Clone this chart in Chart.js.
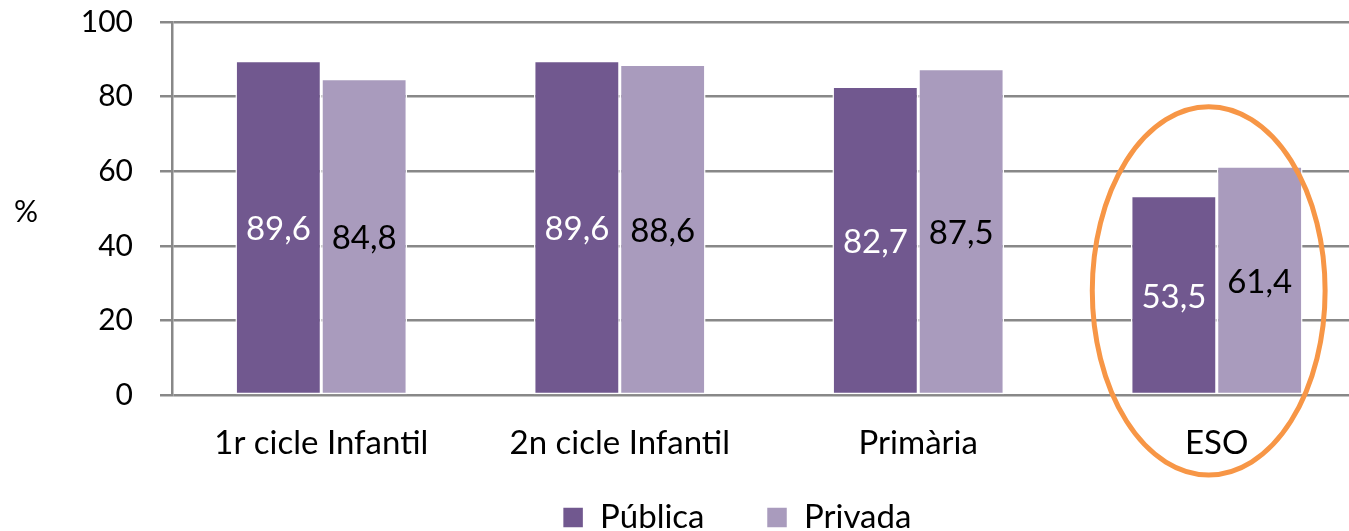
<!DOCTYPE html>
<html>
<head>
<meta charset="utf-8">
<script src="https://cdn.jsdelivr.net/npm/chart.js@4"></script>
<style>
  html, body { margin: 0; padding: 0; background: #fff; overflow: hidden; }
  #wrap { width: 1372px; height: 596px; }
</style>
</head>
<body>
<div id="wrap"><canvas id="myChart"></canvas></div>
<script>
var categories = ["1r cicle Infantil", "2n cicle Infantil", "Primària", "ESO"];
var publica = [89.6, 89.6, 82.7, 53.5];
var privada = [84.8, 88.6, 87.5, 61.4];
var yTicks = [0, 20, 40, 60, 80, 100];

var FONT = "Lato, 'DejaVu Sans', sans-serif";

// etiquetes dins de les barres
var barLabels = {
    id: "barLabels",
    afterDatasetsDraw: function (chart) {
        var c = chart.ctx;
        c.save();
        c.font = "33px " + FONT;
        c.textAlign = "center";
        c.textBaseline = "middle";
        chart.data.datasets.forEach(function (ds, i) {
            var meta = chart.getDatasetMeta(i);
            c.fillStyle = i === 0 ? "#ffffff" : "#000000";
            meta.data.forEach(function (bar, j) {
                var txt = ds.data[j].toFixed(1).replace(".", ",");
                c.fillText(txt, bar.x, (bar.y + bar.base) / 2 + 2);
            });
        });
        c.restore();
    }
};

// la llegenda queda una mica desplaçada (dreta i amunt)
var legendShift = {
    id: "legendShift",
    afterLayout: function (chart) {
        var lg = chart.legend;
        lg.left += 108;
        lg.width -= 108;
        lg.top -= 52;
        lg.bottom -= 52;
    }
};

// "%" i l'el·lipse taronja al voltant d'ESO
var extras = {
    id: "extras",
    afterDraw: function (chart) {
        var c = chart.ctx;
        var x = chart.scales.x, y = chart.scales.y;
        c.save();
        c.font = "30px " + FONT;
        c.fillStyle = "#000";
        c.textAlign = "center";
        c.textBaseline = "middle";
        c.fillText("%", 26, (chart.chartArea.top + chart.chartArea.bottom) / 2 + 4);

        var step = x.getPixelForValue(1) - x.getPixelForValue(0);
        var cx = x.getPixelForValue(3) - step * 0.027;
        var cy = y.getPixelForValue(28);
        var rx = step * 0.39;
        var ry = y.getPixelForValue(0) - y.getPixelForValue(49.3);
        c.beginPath();
        c.ellipse(cx, cy, rx, ry, 0, 0, Math.PI * 2);
        c.strokeStyle = "#F79646";
        c.lineWidth = 5;
        c.stroke();
        c.restore();
    }
};

var ctx = document.getElementById("myChart");
var chart = new Chart(ctx, {
    type: "bar",
    data: {
        labels: categories,
        datasets: [{
            label: "Pública",
            data: publica,
            backgroundColor: "#71588F",
            borderColor: "#ffffff",
            borderWidth: 1.5,
            borderSkipped: false
        }, {
            label: "Privada",
            data: privada,
            backgroundColor: "#A99BBD",
            borderColor: "#ffffff",
            borderWidth: 1.5,
            borderSkipped: false
        }]
    },
    options: {
        responsive: true,
        maintainAspectRatio: false,
        animation: false,
        events: [],
        layout: { padding: { left: 0, right: 6, top: 0, bottom: 0 } },
        datasets: { bar: { categoryPercentage: 0.575, barPercentage: 1 } },
        scales: {
            x: {
                grid: { display: false, drawTicks: false },
                border: { display: false },
                ticks: { color: "#000", font: { family: FONT, size: 33 }, padding: 28 }
            },
            y: {
                min: 0,
                max: 100,
                afterFit: function (scale) {
                    scale.width = 172;
                    scale.paddingTop = 22;
                },
                afterBuildTicks: function (scale) {
                    scale.ticks = yTicks.map(function (v) { return { value: v }; });
                },
                grid: { color: "#888888", lineWidth: 2.5, tickLength: 12 },
                border: { display: true, color: "#888888", width: 2.5 },
                ticks: { color: "#000", font: { family: FONT, size: 30 }, padding: 27 }
            }
        },
        plugins: {
            legend: {
                position: "bottom",
                labels: {
                    color: "#000",
                    font: { family: FONT, size: 33 },
                    boxWidth: 21,
                    boxHeight: 21,
                    padding: 62
                }
            },
            tooltip: { enabled: false }
        }
    },
    plugins: [barLabels, legendShift, extras]
});
</script>
</body>
</html>
